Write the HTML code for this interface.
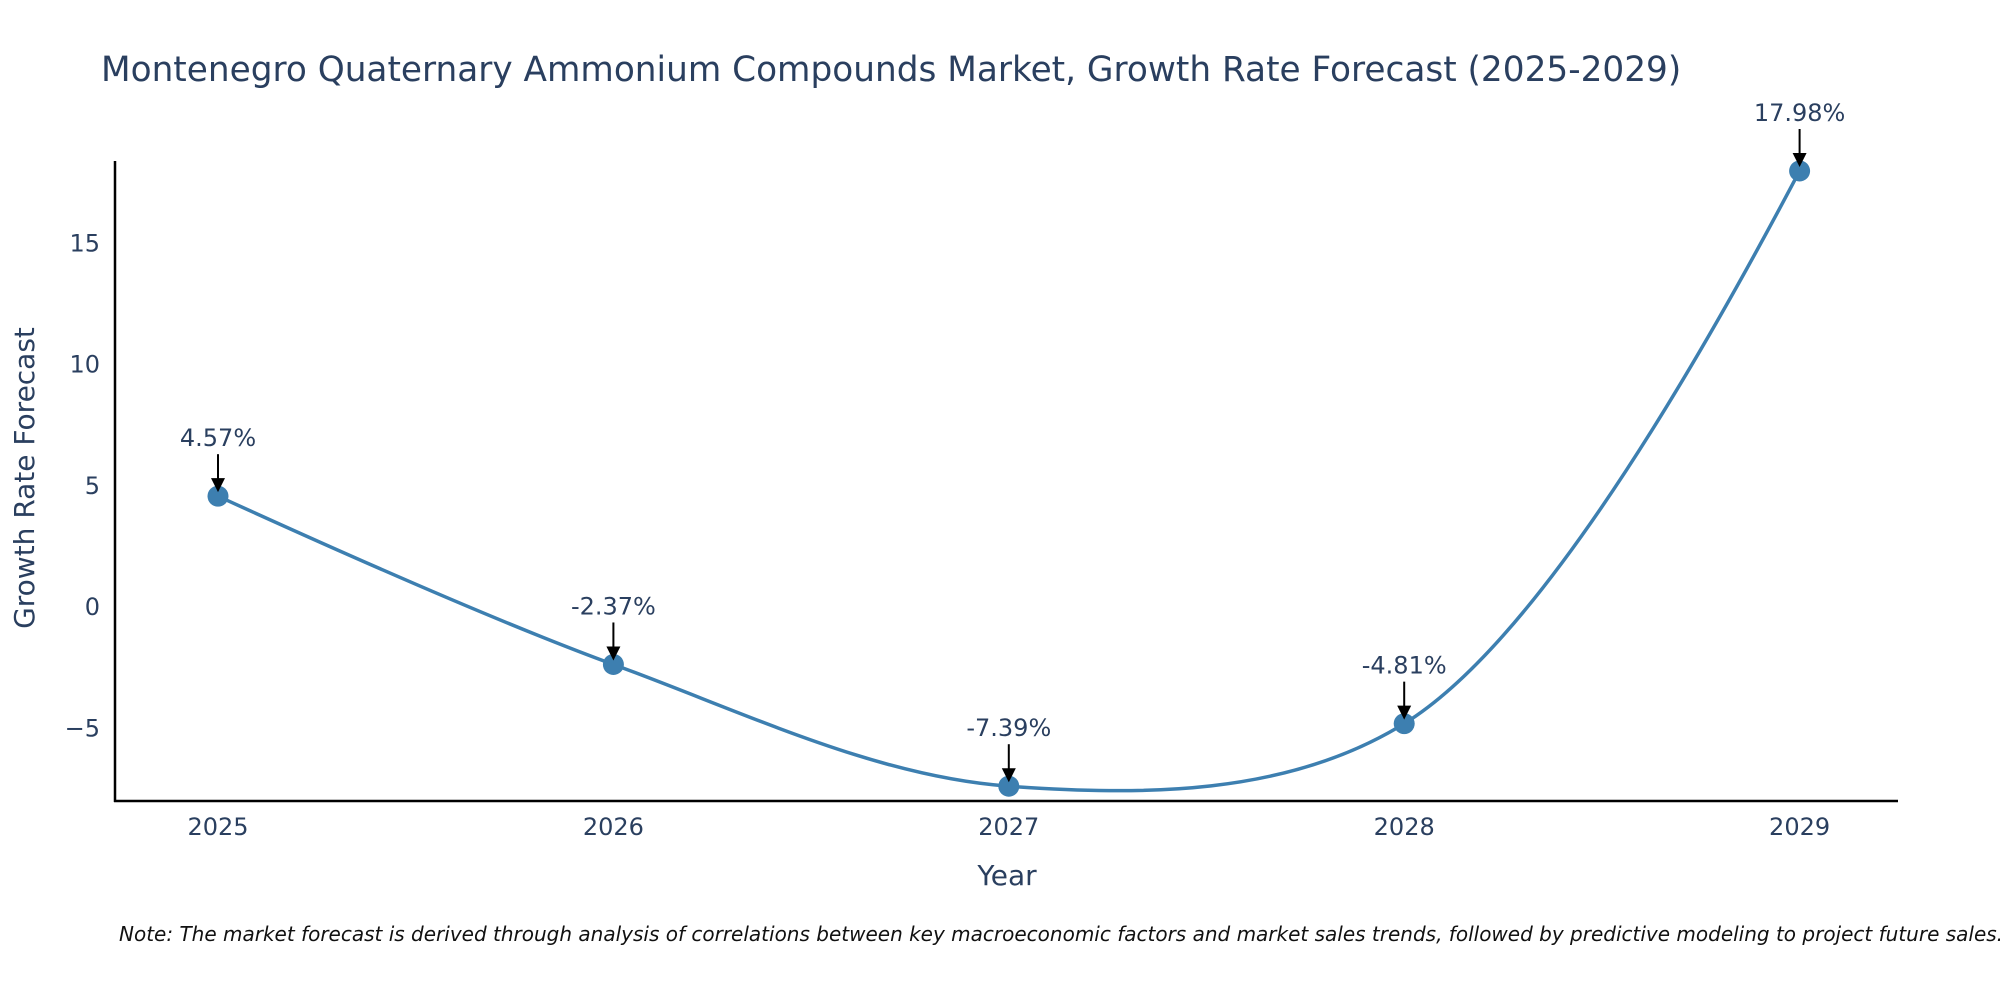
<!DOCTYPE html>
<html><head><meta charset="utf-8">
<style>
html,body{margin:0;padding:0;background:#fff;overflow:hidden;}
svg{display:block;font-family:"DejaVu Sans","Liberation Sans",sans-serif;}
</style></head>
<body>
<svg id="chart" width="2000" height="1000" viewBox="0 0 2000 1000">
<text x="101" y="81" font-size="34.3" fill="#2a3f5f">Montenegro Quaternary Ammonium Compounds Market, Growth Rate Forecast (2025-2029)</text>
<g id="yticks"></g>
<g id="xticks"></g>
<line x1="115" y1="161" x2="115" y2="802" stroke="#000" stroke-width="2.5"/>
<line x1="114" y1="801" x2="1898" y2="801" stroke="#000" stroke-width="2.5"/>
<path id="line" fill="none" stroke="#3d7fb0" stroke-width="3.5"/>
<g id="marks"></g>
<text x="1007" y="885" font-size="28" fill="#2a3f5f" text-anchor="middle">Year</text>
<text transform="translate(34,478) rotate(-90)" font-size="28" fill="#2a3f5f" text-anchor="middle">Growth Rate Forecast</text>
<text x="119" y="941" font-size="20" font-style="italic" fill="#111">Note: The market forecast is derived through analysis of correlations between key macroeconomic factors and market sales trends, followed by predictive modeling to project future sales.</text>
</svg>
<script>
const years = [2025, 2026, 2027, 2028, 2029];
const values = [4.57, -2.37, -7.39, -4.81, 17.98];
const labels = ["4.57%", "-2.37%", "-7.39%", "-4.81%", "17.98%"];
const yTickValues = [-5, 0, 5, 10, 15];
const yTickLabels = ["\u22125", "0", "5", "10", "15"];

const NS = "http://www.w3.org/2000/svg";
function xs(v){ return 218 + (v - 2025) * 395.4; }
function ys(v){ return 607 - v * 24.25; }
function mk(tag, attrs, parent){
  const e = document.createElementNS(NS, tag);
  for (const k in attrs) e.setAttribute(k, attrs[k]);
  parent.appendChild(e); return e;
}
const yt = document.getElementById('yticks');
yTickValues.forEach((v,i)=>{
  const t = mk('text',{x:100,y:ys(v)+8,'font-size':24,fill:'#2a3f5f','text-anchor':'end'},yt);
  
  
  t.textContent = yTickLabels[i];
});
const xt = document.getElementById('xticks');
years.forEach(y=>{
  const t = mk('text',{x:xs(y),y:835,'font-size':24,fill:'#2a3f5f','text-anchor':'middle'},xt);
  
  
  t.textContent = String(y);
});
// plotly-style spline
const pts = years.map((y,i)=>[xs(y), ys(values[i])]);
function tangent(p0,p1,p2,s){
  const d1x=p0[0]-p1[0], d1y=p0[1]-p1[1], d2x=p2[0]-p1[0], d2y=p2[1]-p1[1];
  const d1a=Math.pow(d1x*d1x+d1y*d1y,0.25), d2a=Math.pow(d2x*d2x+d2y*d2y,0.25);
  const nx=(d2a*d2a*d1x-d1a*d1a*d2x)*s, ny=(d2a*d2a*d1y-d1a*d1a*d2y)*s;
  const den1=3*d2a*(d1a+d2a), den2=3*d1a*(d1a+d2a);
  return [[p1[0]+nx/den1,p1[1]+ny/den1],[p1[0]-nx/den2,p1[1]-ny/den2]];
}
const tg=[];
for(let i=1;i<pts.length-1;i++) tg.push(tangent(pts[i-1],pts[i],pts[i+1],1));
const n=pts.length;
let d="M"+pts[0]+"Q"+tg[0][0]+" "+pts[1];
for(let i=2;i<n-1;i++) d+="C"+tg[i-2][1]+" "+tg[i-1][0]+" "+pts[i];
d+="Q"+tg[n-3][1]+" "+pts[n-1];
document.getElementById('line').setAttribute('d', d);
const mg = document.getElementById('marks');
pts.forEach((p,i)=>{
  const c = mk('circle',{cx:p[0],cy:p[1],r:10.5,fill:'#3d7fb0'},mg);
  
  
  const a = mk('line',{x1:p[0],y1:p[1]-42,x2:p[0],y2:p[1]-14,stroke:'#000','stroke-width':2},mg);
  
  
  const h = mk('polygon',{points:(p[0]-7)+","+(p[1]-18)+" "+(p[0]+7)+","+(p[1]-18)+" "+p[0]+","+(p[1]-4),fill:'#000'},mg);
  
  
  const t = mk('text',{x:p[0],y:p[1]-50,'font-size':24,fill:'#2a3f5f','text-anchor':'middle'},mg);
  
  
  t.textContent = labels[i];
});
</script>
</body></html>
